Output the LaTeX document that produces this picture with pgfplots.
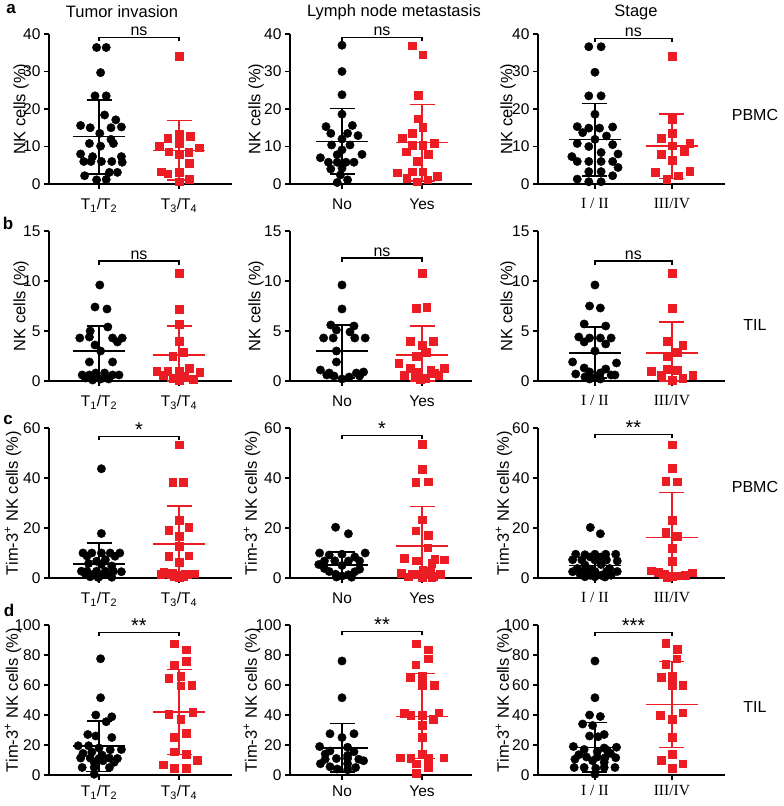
\documentclass[border=0pt]{standalone}
\usepackage{pgfplots}
\pgfplotsset{compat=1.18}
\usepackage{fontspec}
\setmainfont{Liberation Sans}
\newfontfamily\serif{Liberation Serif}
\definecolor{myred}{RGB}{235,28,36}
\pgfplotsset{
  base/.style={scale only axis, height=150pt, axis lines*=left,
    axis line style={line width=1.5pt}, major tick style={line width=1.5pt, black},
    tick align=outside, major tick length=5pt, xtick={0,1}, ymin=0, clip=false,
    tick label style={font=\fontsize{15.5}{16}\selectfont},
    xticklabel style={yshift=-#1},
    /pgf/number format/assume math mode=true},
  base/.default=3pt,
  ylab/.style={every axis y label/.style={at={([xshift=-#1]axis description cs:0,0.5)}, rotate=90, anchor=center, font=\fontsize{16.5}{17}\selectfont}},
  c1/.style={width=183pt, xmin=-0.625, xmax=1.6625, xticklabels={T\textsubscript{1}/T\textsubscript{2}, T\textsubscript{3}/T\textsubscript{4}}},
  c2/.style={width=182pt, xmin=-0.65, xmax=1.625, xticklabels={No, Yes}},
  c3/.style={width=187pt, xmin=-0.74, xmax=1.69, xticklabels={{\serif I / II}, {\serif III/IV}}},
  rA/.style={ymax=40, ytick={0,10,20,30,40}, ylabel={NK cells (\%)}},
  rB/.style={ymax=15, ytick={0,5,10,15}, ylabel={NK cells (\%)}},
  rC/.style={ymax=60, ytick={0,20,40,60}, ylabel={Tim-3\textsuperscript{+} NK cells (\%)}},
  rD/.style={ymax=100, ytick={0,20,40,60,80,100}, ylabel={Tim-3\textsuperscript{+} NK cells (\%)}},
  bk/.style={only marks, mark=*, mark size=4.2pt, black},
  rd/.style={only marks, mark=square*, mark size=3.8pt, color=myred},
  msd/.style={color=#1, line width=1.4pt, mark=-, mark size=26pt, mark options={line width=1.4pt},
    /pgfplots/error bars/y dir=both, /pgfplots/error bars/y explicit,
    /pgfplots/error bars/error bar style={line width=1.4pt},
    /pgfplots/error bars/error mark options={rotate=90, line width=1.4pt, mark size=12.5pt, #1}},
  sig/.style={black, line width=1.3pt, mark=none},
}
\tikzset{siglab/.style={anchor=south, inner sep=1.5pt, font=\fontsize{16}{16}\selectfont},
  stars/.style={anchor=south, inner sep=0pt, font=\fontsize{20}{20}\selectfont}}
\begin{document}
\begin{tikzpicture}
\path[use as bounding box] (0pt,0pt) rectangle (784pt,806pt);
% titles
\node[font=\fontsize{16.5}{17}\selectfont] at (122pt,794pt) {Tumor invasion};
\node[font=\fontsize{16.5}{17}\selectfont] at (394pt,794pt) {Lymph node metastasis};
\node[font=\fontsize{16.5}{17}\selectfont] at (636pt,794pt) {Stage};
\node[font=\bfseries\fontsize{17}{17}\selectfont] at (11pt,797pt) {a};
\node[font=\bfseries\fontsize{17}{17}\selectfont] at (8pt,583pt) {b};
\node[font=\bfseries\fontsize{17}{17}\selectfont] at (8pt,386pt) {c};
\node[font=\bfseries\fontsize{17}{17}\selectfont] at (9pt,196pt) {d};
\node[font=\fontsize{16}{16}\selectfont] at (755pt,691pt) {PBMC};
\node[font=\fontsize{16}{16}\selectfont] at (755pt,481pt) {TIL};
\node[font=\fontsize{16}{16}\selectfont] at (755pt,319pt) {PBMC};
\node[font=\fontsize{16}{16}\selectfont] at (755pt,99pt) {TIL};

% ---------- Row a ----------
\begin{axis}[base=6pt, c1, rA, ylab=28pt, at={(49pt,622pt)}, anchor=south west]
\addplot[bk] coordinates {(-0.03,36.4)(0.09,36.4)(0.02,29.7)(-0.05,23.5)(0.09,23.5)(0.07,18.4)(0.21,17.1)(-0.23,15.6)(-0.11,15.0)(0.15,15.0)(0.28,15.2)(0.01,13.5)(0.15,11.9)(-0.12,10.8)(0.02,10.1)(0.18,10.8)(-0.23,8.0)(-0.08,7.3)(0.28,7.3)(-0.19,6.0)(-0.10,6.0)(0.03,6.0)(0.16,6.0)(0.29,5.8)(0.13,3.1)(0.23,3.1)(-0.18,2.2)(-0.03,1.1)(0.09,1.2)};
\addplot[rd] coordinates {(1,34.0)(1,13.3)(0.86,12.2)(1.14,12.8)(0.75,10.2)(1,10.8)(0.87,8.6)(1,7.9)(1.12,8.4)(1.25,9.7)(1.13,5.5)(0.78,3.3)(0.86,2.7)(1,3.1)(1.13,1.3)(1,0.6)};
\addplot[msd=black] coordinates {(0,12.6) += (0,9.8) -= (0,9.9)};
\addplot[msd=myred] coordinates {(1,9.0) += (0,7.9) -= (0,7.9)};
\addplot[sig] coordinates {(0,38)(0,39)(1,39)(1,38)};
\node[siglab] at (axis cs:0.5,39) {ns};
\end{axis}
\begin{axis}[base=6pt, c2, rA, ylab=34pt, at={(290pt,622pt)}, anchor=south west]
\addplot[bk] coordinates {(0,37.0)(0,30.0)(0,23.8)(0,18.6)(-0.20,15.3)(0.13,15.6)(-0.14,13.5)(0.07,13.5)(0.20,12.9)(0,12.0)(-0.13,10.4)(0.10,10.4)(0,9.1)(-0.27,7.0)(0.25,7.9)(-0.06,7.8)(-0.17,5.8)(-0.06,5.8)(0.05,5.8)(0.15,5.8)(-0.14,4.0)(0,4.2)(-0.02,2.4)(0.07,1.1)(-0.06,0.4)};
\addplot[rd] coordinates {(0.88,36.9)(1.01,34.5)(0.95,23.6)(0.95,17.4)(1.01,15.1)(0.88,13.5)(0.75,12.2)(0.88,10.4)(1.01,10.4)(1.15,10.9)(0.80,8.6)(1.08,7.9)(0.94,6.1)(0.69,3.0)(0.88,3.3)(1.01,3.3)(0.81,1.5)(1.19,2.1)(1.07,1.1)(0.94,0.6)};
\addplot[msd=black] coordinates {(0,11.4) += (0,8.8) -= (0,8.7)};
\addplot[msd=myred] coordinates {(1,11.0) += (0,10.2) -= (0,10.2)};
\addplot[sig] coordinates {(0,38)(0,39)(1,39)(1,38)};
\node[siglab] at (axis cs:0.5,39) {ns};
\end{axis}
\begin{axis}[base=6pt, c3, rA, ylab=30pt, at={(538pt,622pt)}, anchor=south west]
\addplot[bk] coordinates {(-0.08,36.6)(0.08,36.6)(0,29.8)(-0.08,23.5)(0.08,23.5)(0,18.6)(-0.23,15.3)(-0.08,14.9)(0.06,14.9)(0.23,15.2)(-0.16,13.7)(0.15,12.8)(0,11.9)(-0.23,10.8)(-0.08,10.0)(0.23,10.5)(0.08,8.4)(-0.30,7.3)(0.30,8.0)(-0.23,6.0)(-0.08,6.0)(0.08,6.0)(0.23,6.0)(0.30,4.4)(-0.08,3.3)(0.08,3.3)(0.23,2.2)(-0.23,1.3)(-0.08,0.6)(0.08,0.6)};
\addplot[rd] coordinates {(1,34.1)(1,17.3)(1,13.5)(0.86,12.2)(1.23,10.8)(1,10.2)(1.16,8.8)(0.86,8.0)(1,6.4)(0.78,3.1)(1.23,3.4)(1.08,2.2)(0.93,1.3)};
\addplot[msd=black] coordinates {(0,11.9) += (0,9.6) -= (0,9.8)};
\addplot[msd=myred] coordinates {(1,10.1) += (0,8.6) -= (0,8.6)};
\addplot[sig] coordinates {(0,37.8)(0,38.8)(1,38.8)(1,37.8)};
\node[siglab] at (axis cs:0.5,38.8) {ns};
\end{axis}

% ---------- Row b ----------
\begin{axis}[base=6pt, c1, rB, ylab=28pt, at={(49pt,425pt)}, anchor=south west]
\addplot[bk] coordinates {(0.01,9.6)(-0.05,7.4)(0.10,7.2)(-0.11,5.0)(0.11,5.4)(-0.24,4.3)(-0.12,4.4)(0.17,4.3)(0.29,4.3)(0.23,3.9)(-0.05,3.6)(0.02,3.0)(-0.12,1.9)(0.17,1.9)(-0.04,0.8)(0.07,0.8)(-0.21,0.6)(-0.12,0.6)(0.17,0.6)(0.25,0.6)(-0.17,0.3)(0.02,0.2)(-0.08,0.1)(0.12,0.2)};
\addplot[rd] coordinates {(1,10.8)(1,7.2)(1,5.7)(1,4.0)(1.06,2.9)(0.92,2.5)(0.72,1.0)(0.86,1.0)(1,1.0)(1.13,1.3)(1.26,0.9)(0.80,0.6)(1.07,0.5)(0.92,0.3)(1.18,0.2)(1,0.1)};
\addplot[msd=black] coordinates {(0,3.0) += (0,2.5) -= (0,2.6)};
\addplot[msd=myred] coordinates {(1,2.6) += (0,2.9) -= (0,2.6)};
\addplot[sig] coordinates {(0,11.6)(0,12.0)(1,12.0)(1,11.6)};
\node[siglab] at (axis cs:0.5,12.0) {ns};
\end{axis}
\begin{axis}[base=6pt, c2, rB, ylab=34pt, at={(290pt,425pt)}, anchor=south west]
\addplot[bk] coordinates {(0,9.6)(0,7.2)(-0.14,5.6)(0.15,5.5)(-0.07,5.1)(0.10,4.9)(-0.23,4.3)(-0.11,4.3)(0.16,4.3)(0.29,4.3)(-0.07,3.0)(-0.07,1.9)(-0.27,1.1)(0.27,0.9)(-0.16,0.8)(0.18,0.8)(-0.10,0.5)(0.09,0.4)(0,0.2)(-0.19,0.6)(0.22,0.5)};
\addplot[rd] coordinates {(1,10.8)(0.93,7.3)(1.06,7.4)(0.85,4.0)(1.14,4.0)(1,3.6)(1.06,2.9)(0.93,2.5)(0.71,1.8)(0.85,1.3)(1.28,1.3)(1.11,1.1)(0.96,0.9)(1.15,0.8)(0.78,0.6)(0.91,0.5)(1.21,0.6)(1.04,0.3)(0.98,0.2)};
\addplot[msd=black] coordinates {(0,3.0) += (0,2.6) -= (0,2.7)};
\addplot[msd=myred] coordinates {(1,2.6) += (0,2.9) -= (0,2.6)};
\addplot[sig] coordinates {(0,11.9)(0,12.3)(1,12.3)(1,11.9)};
\node[siglab] at (axis cs:0.5,12.3) {ns};
\end{axis}
\begin{axis}[base=6pt, c3, rB, ylab=30pt, at={(538pt,425pt)}, anchor=south west]
\addplot[bk] coordinates {(0,9.6)(-0.07,7.5)(0.07,7.3)(-0.14,5.7)(0.14,5.5)(-0.21,4.4)(-0.07,4.3)(0.07,4.3)(0.21,4.3)(-0.14,3.9)(0.14,3.7)(0,3.0)(-0.29,1.9)(0.28,1.8)(-0.14,1.3)(0.14,1.2)(-0.07,0.9)(0.07,0.8)(-0.25,0.7)(0.21,0.6)(0.26,0.6)(-0.13,0.4)(0,0.3)(-0.07,0.2)(0.07,0.2)};
\addplot[rd] coordinates {(1,10.8)(1,7.3)(0.93,4.0)(1.14,3.6)(1.07,2.9)(0.93,2.5)(0.93,1.2)(1.07,1.1)(0.73,1.0)(0.86,0.6)(1.27,0.6)(1.14,0.3)(1,0.1)};
\addplot[msd=black] coordinates {(0,2.8) += (0,2.6) -= (0,2.5)};
\addplot[msd=myred] coordinates {(1,2.8) += (0,3.1) -= (0,2.8)};
\addplot[sig] coordinates {(0,11.6)(0,12.0)(1,12.0)(1,11.6)};
\node[siglab] at (axis cs:0.5,12.0) {ns};
\end{axis}

% ---------- Row c ----------
\begin{axis}[base=6pt, c1, rC, ylab=36pt, at={(49pt,228pt)}, anchor=south west]
\addplot[bk] coordinates {(0.03,43.7)(0.03,17.8)(-0.20,10.0)(-0.09,10.0)(0.03,10.0)(0.14,10.0)(0.26,10.0)(-0.15,8.8)(0.20,8.7)(0.08,7.3)(-0.03,6.7)(-0.13,5.8)(0.03,5.5)(0.16,4.8)(-0.22,2.7)(-0.15,2.7)(-0.03,2.7)(0.08,2.7)(0.18,2.7)(0.28,2.5)(-0.17,1.7)(-0.07,1.5)(0.05,1.3)(0.12,1.3)(0.01,0.8)(-0.11,0.5)(0.16,0.3)(-0.01,0.2)};
\addplot[rd] coordinates {(1,53.3)(0.92,38.4)(1.05,38.2)(1,23.2)(1.12,20.3)(0.87,19.2)(1,16.6)(1,12.7)(0.87,8.8)(1.12,8.9)(1,6.4)(0.81,2.4)(0.87,1.9)(0.92,1.8)(1.08,1.7)(1.19,1.7)(0.77,1.5)(1,1.2)(0.94,0.8)(1.06,0.5)(1,0.3)};
\addplot[msd=black] coordinates {(0,5.6) += (0,8.4) -= (0,5.6)};
\addplot[msd=myred] coordinates {(1,13.6) += (0,15.2) -= (0,13.6)};
\addplot[sig] coordinates {(0,55.3)(0,56.7)(1,56.7)(1,55.3)};
\node[stars] at (axis cs:0.5,56.7) {*};
\end{axis}
\begin{axis}[base=6pt, c2, rC, ylab=38pt, at={(290pt,228pt)}, anchor=south west]
\addplot[bk] coordinates {(-0.08,20.3)(0.08,17.7)(-0.28,10.0)(-0.16,9.2)(0,9.5)(0.29,10.0)(0.16,8.4)(-0.22,6.8)(-0.09,6.9)(0.08,6.8)(0.22,6.8)(-0.29,5.4)(0,5.0)(-0.22,3.8)(0.22,3.5)(-0.16,2.6)(0.16,2.5)(-0.08,1.5)(0.08,1.3)(0,0.8)(-0.07,0.4)(0.12,0.3)};
\addplot[rd] coordinates {(1,53.4)(1,43.6)(0.92,38.4)(1.08,38.5)(1,23.3)(0.92,18.9)(1.08,17.1)(1.07,12.1)(0.78,7.9)(1.16,7.6)(1.28,7.3)(0.93,6.9)(1.12,5.9)(1.01,3.0)(1.10,2.9)(0.74,1.8)(0.87,1.6)(0.94,1.6)(1.23,1.6)(1.05,1.3)(1.14,0.8)(0.83,0.5)(1,0.3)(1.12,0.2)};
\addplot[msd=black] coordinates {(0,5.2) += (0,5.2) -= (0,5.2)};
\addplot[msd=myred] coordinates {(1,12.8) += (0,15.8) -= (0,12.8)};
\addplot[sig] coordinates {(0,55.6)(0,57)(1,57)(1,55.6)};
\node[stars] at (axis cs:0.5,57) {*};
\end{axis}
\begin{axis}[base=6pt, c3, rC, ylab=34pt, at={(538pt,228pt)}, anchor=south west]
\addplot[bk] coordinates {(-0.06,20.2)(0.07,17.7)(-0.25,9.5)(-0.13,9.3)(0,9.5)(0.14,9.5)(0.27,9.5)(-0.06,8.4)(0.08,8.4)(-0.29,7.3)(-0.17,7.2)(0,7.2)(0.15,7.2)(0.29,6.8)(-0.13,5.2)(0.08,5.4)(-0.23,3.8)(-0.06,3.5)(0.19,3.8)(-0.29,2.5)(-0.15,2.6)(0,2.6)(0.15,2.6)(0.29,2.6)(-0.19,1.3)(-0.06,1.1)(0.08,1.1)(0.21,1.1)(-0.13,0.5)(0,0.5)(0.13,0.4)};
\addplot[rd] coordinates {(1,53.3)(1,43.8)(0.92,38.6)(1.07,38.5)(1,23.2)(0.92,18.4)(1.07,16.6)(1,12.0)(1,6.7)(0.73,2.9)(0.82,2.3)(1.26,2.1)(0.90,1.4)(1.17,1.2)(1.07,0.9)(1,0.6)(0.94,0.3)};
\addplot[msd=black] coordinates {(0,5.1) += (0,4.8) -= (0,5.1)};
\addplot[msd=myred] coordinates {(1,16.2) += (0,18.1) -= (0,16.2)};
\addplot[sig] coordinates {(0,55.9)(0,57.3)(1,57.3)(1,55.9)};
\node[stars] at (axis cs:0.5,57.3) {**};
\end{axis}

% ---------- Row d ----------
\begin{axis}[base=2pt, c1, rD, ylab=36pt, at={(49pt,31pt)}, anchor=south west]
\addplot[bk] coordinates {(0.02,77.5)(0.02,51.5)(-0.04,40.0)(0.16,38.8)(0.09,35.5)(-0.14,27.0)(-0.04,26.0)(0.16,25.0)(-0.26,19.5)(-0.13,19.5)(0,18.0)(0.28,17.0)(0.14,16.8)(-0.09,15.3)(-0.20,14.4)(0.04,13.2)(-0.23,11.3)(-0.11,11.3)(0,11.0)(0.13,11.3)(0.23,11.0)(0.05,9.5)(-0.06,8.5)(0.19,8.5)(-0.21,5.0)(-0.06,5.0)(0.13,5.0)(-0.06,0.5)};
\addplot[rd] coordinates {(0.94,87.5)(1.09,83.5)(1.09,76.0)(0.94,73.5)(1.02,66.0)(0.87,64.5)(1.02,59.5)(1.16,60.0)(1.17,42.0)(0.87,40.5)(1.02,37.0)(1.09,28.0)(0.94,25.0)(0.94,15.5)(1.09,14.0)(1.23,10.0)(0.80,7.0)(0.94,4.5)(1.09,4.5)};
\addplot[msd=black] coordinates {(0,19.3) += (0,16.7) -= (0,16.8)};
\addplot[msd=myred] coordinates {(1,42.0) += (0,28.5) -= (0,28.5)};
\addplot[sig] coordinates {(0,92.7)(0,95)(1,95)(1,92.7)};
\node[stars] at (axis cs:0.5,95) {**};
\end{axis}
\begin{axis}[base=2pt, c2, rD, ylab=38pt, at={(290pt,31pt)}, anchor=south west]
\addplot[bk] coordinates {(0,76.0)(0,51.5)(-0.15,27.5)(0.15,27.5)(0,25.0)(-0.28,19.0)(0.07,18.5)(-0.15,16.0)(0.15,15.5)(-0.21,14.0)(0.07,13.0)(-0.07,11.0)(0.07,11.0)(-0.21,10.5)(0.21,10.5)(0.27,9.5)(-0.27,7.5)(0.07,7.5)(-0.15,5.5)(0.17,5.0)(-0.06,4.0)(0.07,3.5)};
\addplot[rd] coordinates {(0.93,87.5)(1.08,83.5)(1.08,77.5)(0.92,73.5)(1,66.0)(0.85,65.0)(1,60.0)(1.15,60.0)(0.78,41.0)(0.86,40.0)(1,40.0)(1.21,41.5)(1.14,37.0)(1,33.0)(1,25.0)(1,14.0)(0.73,11.5)(0.86,11.0)(1.08,11.0)(1.27,11.5)(0.93,7.5)(1.08,5.0)(0.93,1.0)};
\addplot[msd=black] coordinates {(0,18.0) += (0,16.5) -= (0,16.0)};
\addplot[msd=myred] coordinates {(1,39.0) += (0,28.5) -= (0,28.0)};
\addplot[sig] coordinates {(0,93.2)(0,95.5)(1,95.5)(1,93.2)};
\node[stars] at (axis cs:0.5,95.5) {**};
\end{axis}
\begin{axis}[base=2pt, c3, rD, ylab=34pt, at={(538pt,31pt)}, anchor=south west]
\addplot[bk] coordinates {(0,76.0)(0,51.5)(-0.07,40.0)(0.07,39.0)(-0.16,34.0)(-0.03,33.0)(0.12,27.0)(-0.07,26.0)(0.04,25.5)(-0.28,19.0)(0.28,18.5)(0.12,18.0)(-0.14,17.0)(0.16,16.5)(0.03,15.5)(0.20,14.5)(-0.21,13.5)(-0.11,12.0)(0.03,12.0)(0.13,11.5)(0.27,11.5)(-0.26,10.5)(-0.03,9.5)(0.12,8.5)(-0.27,5.0)(-0.14,5.0)(0.01,4.5)(0.12,5.0)(0.26,5.0)(0,0.5)};
\addplot[rd] coordinates {(0.92,88.0)(1.07,84.0)(1.06,77.5)(0.92,74.0)(1,66.0)(0.86,65.0)(1,60.0)(1.14,60.0)(1.14,41.5)(0.85,40.0)(1,37.0)(1,25.0)(1,14.0)(0.86,10.0)(1.14,7.5)(1,4.5)};
\addplot[msd=black] coordinates {(0,18.5) += (0,16.5) -= (0,16.5)};
\addplot[msd=myred] coordinates {(1,47.0) += (0,28.5) -= (0,28.5)};
\addplot[sig] coordinates {(0,92.7)(0,95)(1,95)(1,92.7)};
\node[stars] at (axis cs:0.5,95) {***};
\end{axis}
\end{tikzpicture}
\end{document}
